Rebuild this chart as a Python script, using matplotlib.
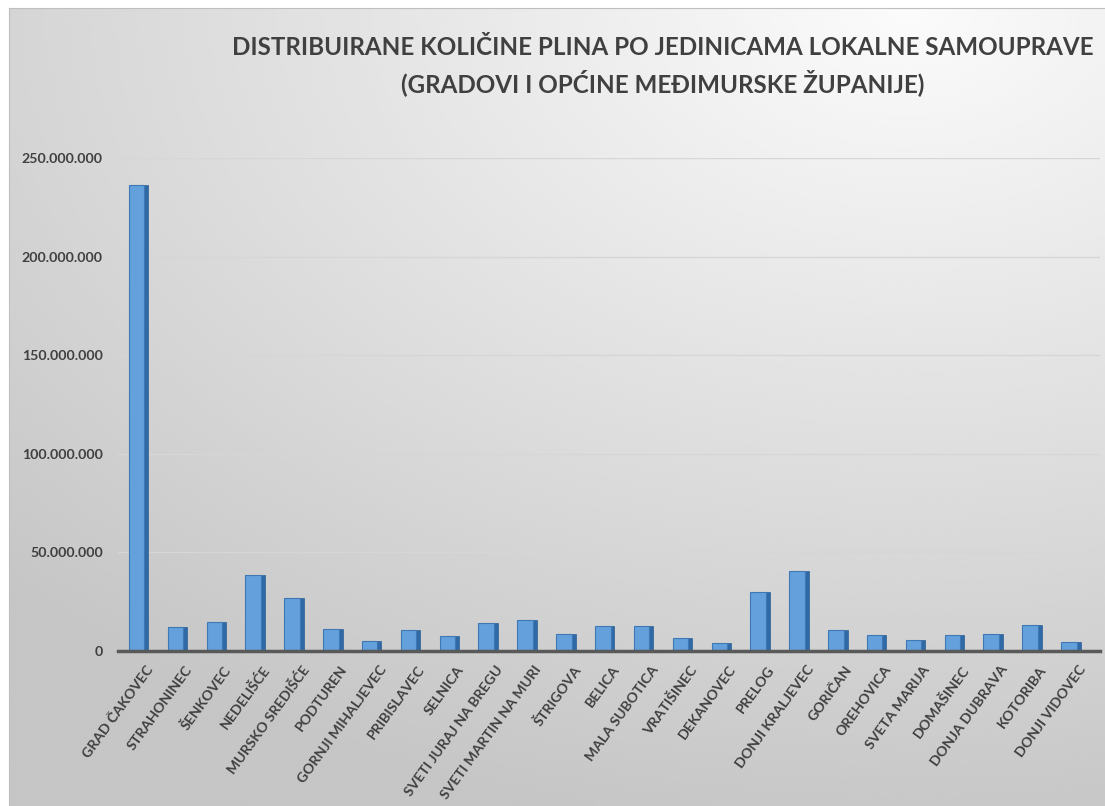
import matplotlib
matplotlib.use("Agg")
import matplotlib.pyplot as plt
import matplotlib.transforms as mtransforms
import numpy as np
from matplotlib.ticker import FuncFormatter

# data
opcine = ["GRAD ČAKOVEC", "STRAHONINEC", "ŠENKOVEC", "NEDELIŠĆE", "MURSKO SREDIŠĆE",
          "PODTUREN", "GORNJI MIHALJEVEC", "PRIBISLAVEC", "SELNICA", "SVETI JURAJ NA BREGU",
          "SVETI MARTIN NA MURI", "ŠTRIGOVA", "BELICA", "MALA SUBOTICA", "VRATIŠINEC",
          "DEKANOVEC", "PRELOG", "DONJI KRALJEVEC", "GORIČAN", "OREHOVICA",
          "SVETA MARIJA", "DOMAŠINEC", "DONJA DUBRAVA", "KOTORIBA", "DONJI VIDOVEC"]
kolicine = [236.5e6, 12.3e6, 14.5e6, 38.3e6, 26.7e6,
            11.2e6, 5.1e6, 10.8e6, 7.6e6, 14.0e6,
            15.7e6, 8.6e6, 12.7e6, 12.5e6, 6.4e6,
            3.9e6, 29.8e6, 40.7e6, 10.8e6, 8.1e6,
            5.6e6, 7.9e6, 8.6e6, 13.0e6, 4.6e6]
y_ticks = [0, 50e6, 100e6, 150e6, 200e6, 250e6]

title = ("DISTRIBUIRANE KOLIČINE PLINA PO JEDINICAMA LOKALNE SAMOUPRAVE\n"
         "(GRADOVI I OPĆINE MEĐIMURSKE ŽUPANIJE)")

plt.rcParams['font.family'] = ['Lato', 'DejaVu Sans']
plt.rcParams['font.weight'] = 'bold'
txt_col = '#404040'

fig = plt.figure(figsize=(11.05, 8.06), dpi=100)
fig.patch.set_facecolor('white')

# gray gradient backdrop (light in the upper right, darker lower left)
bg = fig.add_axes([9/1105, 0, 1 - 9/1105, 1 - 8/806], zorder=-10)
gx, gy = np.meshgrid(np.linspace(0, 1, 300), np.linspace(0, 1, 300))
d = np.sqrt(((gx - 0.82) * 1.0) ** 2 + ((gy - 1.0) * 1.1) ** 2)
shade = 0.985 - 0.21 * np.clip(d / 1.15, 0, 1)
bg.imshow(shade, cmap='gray', vmin=0, vmax=1, origin='lower', aspect='auto',
          extent=[0, 1, 0, 1], interpolation='bicubic')
bg.set_axis_off()
fig.add_artist(plt.Line2D([9/1105, 9/1105], [0, 1 - 8/806], color='#bfbfbf', lw=0.8))
fig.add_artist(plt.Line2D([9/1105, 1], [1 - 8/806, 1 - 8/806], color='#bfbfbf', lw=0.8))

ax = fig.add_axes([118/1105, 1 - 651/806, (1100 - 118)/1105, (651 - 158)/806])
ax.patch.set_alpha(0)

x = np.arange(len(opcine))
front_w = 0.40
side_w = 0.10
# front face
ax.bar(x, kolicine, width=front_w, color='#64a0dc', edgecolor='#3f78b4',
       linewidth=0.8, zorder=3)
# right side face for the 3d look
ax.bar(x + front_w/2 + side_w/2, kolicine, width=side_w, color='#2f6aa6',
       edgecolor='#2a5f96', linewidth=0.5, zorder=2)

ax.set_xlim(-0.48, len(opcine) - 1 + 0.8)
ax.set_ylim(0, 250e6)
ax.set_yticks(y_ticks)
ax.yaxis.set_major_formatter(FuncFormatter(lambda v, p: f"{int(v):,}".replace(",", ".")))
ax.grid(axis='y', color='#d6d6d6', lw=1, zorder=0)
ax.set_axisbelow(True)
for s in ['left', 'right', 'top']:
    ax.spines[s].set_visible(False)
ax.spines['bottom'].set_color('#595959')
ax.spines['bottom'].set_linewidth(2.5)
ax.spines['bottom'].set_zorder(4)
ax.tick_params(length=0)
ax.tick_params(axis='y', pad=11, labelsize=10.2, labelcolor=txt_col)
ax.set_xticks(x)
ax.set_xticklabels(opcine, rotation=54, ha='right', rotation_mode='anchor',
                   fontsize=10.2, color=txt_col, fontweight='bold')
ax.tick_params(axis='x', pad=9)
shift = mtransforms.ScaledTranslation(9/100, 0, fig.dpi_scale_trans)
for lbl in ax.get_xticklabels():
    lbl.set_transform(lbl.get_transform() + shift)

fig.text(663/1105, 1 - 66/806, title, ha='center', va='center', fontsize=17.4,
         fontweight='bold', color=txt_col, linespacing=1.45)

fig.savefig("out.png", dpi=100)
